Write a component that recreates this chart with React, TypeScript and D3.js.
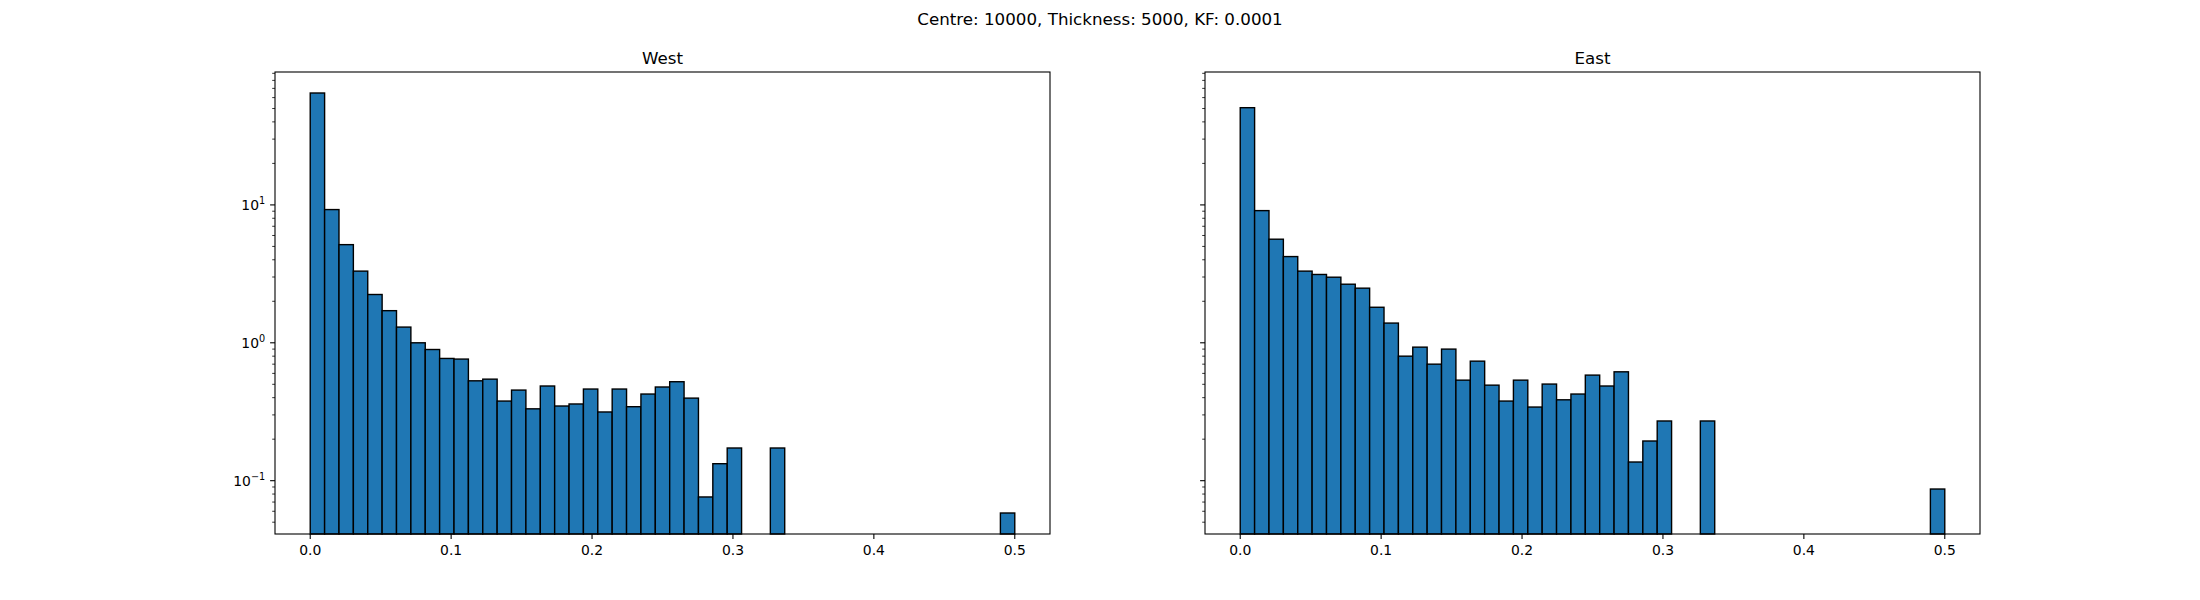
import { useEffect, useRef } from "react";
import * as d3 from "d3";

const WIDTH = 2200;
const HEIGHT = 600;
const PLOT_TOP = 72;
const PLOT_BOTTOM = 534;
const PANELS_X = [
  { left: 275, right: 1050 },
  { left: 1205, right: 1980 },
];

const SUPTITLE = "Centre: 10000, Thickness: 5000, KF: 0.0001";
const PANEL_TITLES = ["West", "East"];

// 49 equal bins between 0 and 0.5, density values (0 = empty bin)
const BIN_COUNT = 49;
const BIN_RANGE: [number, number] = [0, 0.5];

const WEST = [
  64.8, 9.25, 5.15, 3.31, 2.24, 1.71, 1.3, 1.0, 0.894, 0.77,
  0.762, 0.53, 0.545, 0.378, 0.454, 0.332, 0.486, 0.348, 0.36, 0.462,
  0.315, 0.462, 0.344, 0.425, 0.478, 0.522, 0.397, 0.0762, 0.1328, 0.1726,
  0, 0, 0.1726, 0, 0, 0, 0, 0, 0, 0,
  0, 0, 0, 0, 0, 0, 0, 0, 0.0583,
];

const EAST = [
  50.7, 9.09, 5.64, 4.22, 3.31, 3.13, 2.99, 2.66, 2.49, 1.81,
  1.39, 0.8, 0.93, 0.7, 0.9, 0.536, 0.736, 0.493, 0.378, 0.536,
  0.342, 0.502, 0.386, 0.425, 0.583, 0.486, 0.616, 0.1366, 0.194, 0.271,
  0, 0, 0.271, 0, 0, 0, 0, 0, 0, 0,
  0, 0, 0, 0, 0, 0, 0, 0, 0.087,
];

const X_TICKS = [0, 0.1, 0.2, 0.3, 0.4, 0.5];
const Y_MAJOR = [0.1, 1, 10];
const Y_EXPONENTS = ["\u22121", "0", "1"];

const FONT = "'DejaVu Sans', sans-serif";
const BAR_COLOR = "#1f77b4";

function App() {
  const svgRef = useRef<SVGSVGElement>(null);

  useEffect(() => {
    if (!svgRef.current) return;
    const svg = d3.select(svgRef.current);
    svg.selectAll("*").remove();

    const all = [...WEST, ...EAST].filter((v) => v > 0);
    const lo = Math.log10(d3.min(all) as number);
    const hi = Math.log10(d3.max(all) as number);
    const pad = (hi - lo) * 0.05;

    const y = d3
      .scaleLog()
      .domain([10 ** (lo - pad), 10 ** (hi + pad)])
      .range([PLOT_BOTTOM, PLOT_TOP]);

    const binEdge = d3.scaleLinear().domain([0, BIN_COUNT]).range(BIN_RANGE);
    const minorTicks = y.ticks().filter((t) => !Y_MAJOR.some((m) => Math.abs(m - t) < 1e-9));

    svg
      .append("text")
      .attr("x", WIDTH / 2)
      .attr("y", 25)
      .attr("text-anchor", "middle")
      .style("font-family", FONT)
      .style("font-size", "16.7px")
      .text(SUPTITLE);

    [WEST, EAST].forEach((values, p) => {
      const { left, right } = PANELS_X[p];
      const span = BIN_RANGE[1] - BIN_RANGE[0];
      const x = d3
        .scaleLinear()
        .domain([BIN_RANGE[0] - span * 0.05, BIN_RANGE[1] + span * 0.05])
        .range([left, right]);

      const g = svg.append("g");

      g.selectAll("rect.bar")
        .data(values.map((v, i) => ({ v, i })).filter((d) => d.v > 0))
        .join("rect")
        .attr("class", "bar")
        .attr("x", (d) => x(binEdge(d.i)))
        .attr("width", (d) => x(binEdge(d.i + 1)) - x(binEdge(d.i)))
        .attr("y", (d) => y(d.v))
        .attr("height", (d) => PLOT_BOTTOM - y(d.v))
        .attr("fill", BAR_COLOR)
        .attr("stroke", "black")
        .attr("stroke-width", 1.4);

      // x ticks
      const xt = g.selectAll("g.xt").data(X_TICKS).join("g").attr("class", "xt");
      xt.append("line")
        .attr("x1", (d) => x(d)).attr("x2", (d) => x(d))
        .attr("y1", PLOT_BOTTOM).attr("y2", PLOT_BOTTOM + 4.9)
        .attr("stroke", "black").attr("stroke-width", 1.1);
      xt.append("text")
        .attr("x", (d) => x(d))
        .attr("y", 555)
        .attr("text-anchor", "middle")
        .style("font-family", FONT)
        .style("font-size", "13.9px")
        .text((d) => d3.format(".1f")(d));

      // y ticks (shared axis, labels only on the first panel)
      g.selectAll("line.ymaj")
        .data(Y_MAJOR)
        .join("line")
        .attr("class", "ymaj")
        .attr("x1", left - 4.9).attr("x2", left)
        .attr("y1", (d) => y(d)).attr("y2", (d) => y(d))
        .attr("stroke", "black").attr("stroke-width", 1.1);
      g.selectAll("line.ymin")
        .data(minorTicks)
        .join("line")
        .attr("class", "ymin")
        .attr("x1", left - 2.8).attr("x2", left)
        .attr("y1", (d) => y(d)).attr("y2", (d) => y(d))
        .attr("stroke", "black").attr("stroke-width", 0.8);

      if (p === 0) {
        const lab = g
          .selectAll("text.ylab")
          .data(Y_MAJOR)
          .join("text")
          .attr("class", "ylab")
          .attr("x", left - 9.8)
          .attr("y", (d) => y(d) + 5.3)
          .attr("text-anchor", "end")
          .style("font-family", FONT)
          .style("font-size", "13.9px");
        lab.append("tspan").text("10");
        lab.append("tspan")
          .attr("dy", -6)
          .style("font-size", "9.7px")
          .text((_, i) => Y_EXPONENTS[i]);
      }

      // spines
      g.append("rect")
        .attr("x", left)
        .attr("y", PLOT_TOP)
        .attr("width", right - left)
        .attr("height", PLOT_BOTTOM - PLOT_TOP)
        .attr("fill", "none")
        .attr("stroke", "black")
        .attr("stroke-width", 1.1);

      g.append("text")
        .attr("x", (left + right) / 2)
        .attr("y", 63.5)
        .attr("text-anchor", "middle")
        .style("font-family", FONT)
        .style("font-size", "16.7px")
        .text(PANEL_TITLES[p]);
    });
  }, []);

  return (
    <div style={{ position: "absolute", left: 0, top: 0, background: "white" }}>
      <svg ref={svgRef} width={WIDTH} height={HEIGHT} style={{ display: "block" }} />
    </div>
  );
}

export default App;
